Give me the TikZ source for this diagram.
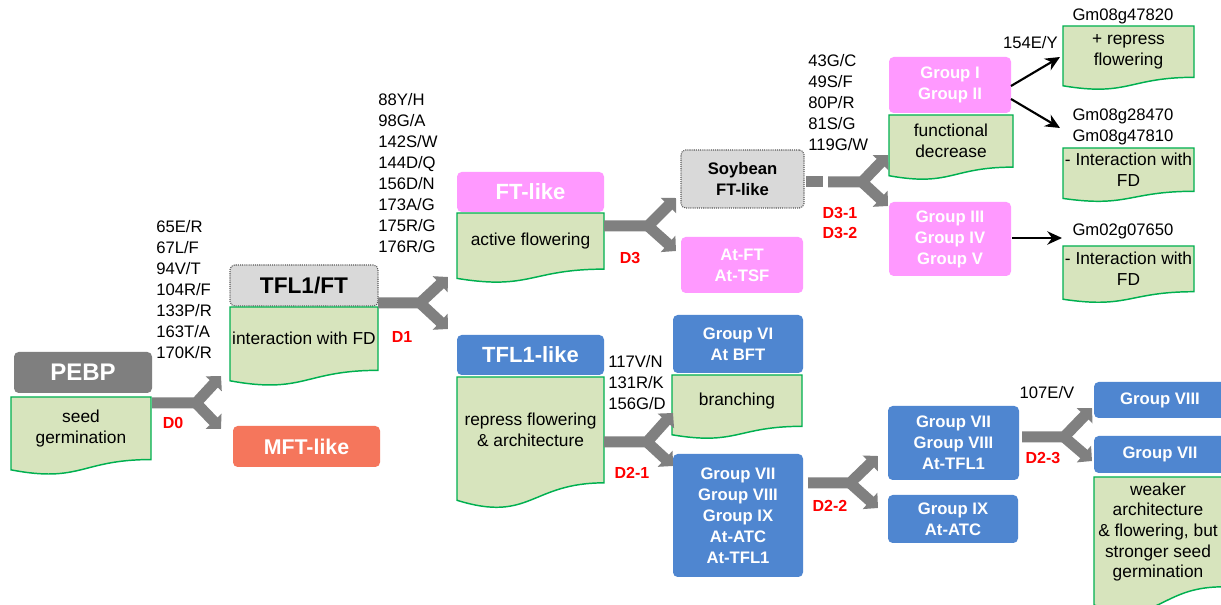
\documentclass[tikz,border=0pt]{standalone}
\usepackage{fontspec}
\setmainfont{Liberation Sans}
\usetikzlibrary{arrows.meta}
\definecolor{dgray}{RGB}{127,127,127}
\definecolor{lgray}{RGB}{217,217,217}
\definecolor{dotc}{RGB}{90,90,90}
\definecolor{gfill}{RGB}{215,228,189}
\definecolor{gline}{RGB}{0,176,80}
\definecolor{pinkc}{RGB}{255,153,255}
\definecolor{bluec}{RGB}{79,134,208}
\definecolor{salmon}{RGB}{245,118,92}
\definecolor{barc}{RGB}{128,128,128}
\definecolor{redc}{RGB}{255,0,0}
\tikzset{
  cboxbase/.style={rounded corners=3.5pt, inner sep=0pt, outer sep=0pt, align=center},
  darkbox/.style={cboxbase, fill=dgray, text=white, font=\bfseries\fontsize{18}{21}\selectfont},
  greybox/.style={cboxbase, fill=lgray, draw=dotc, line width=0.8pt, dash pattern=on 0.8pt off 0.8pt, text=black},
  pinkbox/.style={cboxbase, fill=pinkc, text=white, font=\bfseries\fontsize{12.5}{15.75}\selectfont},
  bluebox/.style={cboxbase, fill=bluec, text=white, font=\bfseries\fontsize{12.5}{15.75}\selectfont},
  titlefont/.style={font=\bfseries\fontsize{16.5}{19}\selectfont},
  salbox/.style={cboxbase, fill=salmon, text=white, font=\bfseries\fontsize{16}{19}\selectfont},
  docshape/.style={fill=gfill, draw=gline, line width=1.1pt},
  doctext/.style={inner sep=0pt, align=center, font=\fontsize{13}{15.5}\selectfont},
  mutlist/.style={inner sep=0pt, align=left, anchor=west, font=\fontsize{12.5}{15.75}\selectfont},
  plaintext/.style={inner sep=0pt, align=center, font=\fontsize{12.5}{15.25}\selectfont},
  dlabel/.style={inner sep=0pt, align=center, text=redc, font=\bfseries\fontsize{12}{15}\selectfont},
  ybar/.style={draw=barc, line width=8.25pt, line join=round, -{Triangle[width=16pt,length=8pt]}},
  ybarplain/.style={draw=barc, line width=8.25pt},
  blackarrow/.style={draw=black, line width=1.6pt, -{Stealth[length=11pt,width=10pt]}}
}
\newcommand\cbox[7]{%
  \node[#2, minimum width={(#5-#3)*0.75pt}, minimum height={(#6-#4)*0.75pt}] (#1) at ({(#3+#5)/2},{(#4+#6)/2}) {#7};}
\newcommand\docbox[6]{%
  \path[docshape] (#2,#3) -- (#4,#3) -- (#4,{#3+0.802*(#5-#3)}) .. controls ({(#2+#4)/2},{#3+0.802*(#5-#3)}) and ({(#2+#4)/2},{#3+1.107*(#5-#3)}) .. (#2,{#3+0.934*(#5-#3)}) -- cycle;
  \node[doctext] (#1) at ({(#2+#4)/2},{#3+0.401*(#5-#3)}) {#6};}
\begin{document}
\begin{tikzpicture}[x=0.75pt, y=-0.75pt]
\clip (0,0) rectangle (1221,605);
\fill[white] (0,0) rectangle (1221,605);

% ---------- boxes ----------
\cbox{pebp}{darkbox}{14}{352}{152}{393}{PEBP}
\docbox{seed}{11}{397}{151}{475}{seed\\germination}

\cbox{tflft}{greybox, text=black, font=\bfseries\fontsize{17}{20}\selectfont}{230}{265}{378}{306}{TFL1/FT}
\docbox{interfd}{230}{307}{378}{386}{interaction with FD}
\cbox{mft}{salbox}{233}{426}{380}{467}{MFT-like}

\cbox{ftlike}{pinkbox, titlefont}{457}{172}{604}{212}{FT-like}
\docbox{active}{457}{213}{604}{283}{active flowering}

\cbox{tfl1like}{bluebox, titlefont}{457}{335}{604}{375}{TFL1-like}
\docbox{repress}{457}{377}{604}{509}{repress flowering\\\& architecture}

\cbox{soy}{greybox, font=\bfseries\fontsize{12.5}{15.75}\selectfont}{681}{150}{804}{208}{Soybean\\FT-like}
\cbox{atft}{pinkbox}{681}{237}{803}{293}{At-FT\\At-TSF}

\cbox{g12}{pinkbox}{889}{57}{1011}{113}{Group I\\Group II}
\docbox{funcdec}{889}{115}{1013}{180}{functional\\decrease}
\cbox{g345}{pinkbox}{889}{202}{1011}{276}{Group III\\Group IV\\Group V}

\docbox{reprfl}{1063}{26}{1194}{90}{+ repress\\flowering}
\docbox{interA}{1063}{148}{1194}{202}{- Interaction with\\FD}
\docbox{interB}{1063}{246}{1194}{303}{- Interaction with\\FD}

\cbox{g6}{bluebox}{673}{315}{803}{373}{Group VI\\At BFT}
\docbox{branch}{672}{375}{802}{439}{branching}
\cbox{g789}{bluebox}{673}{454}{803}{577}{Group VII\\Group VIII\\Group IX\\At-ATC\\At-TFL1}

\cbox{g78}{bluebox}{888}{406}{1019}{480}{Group VII\\Group VIII\\At-TFL1}
\cbox{g9}{bluebox}{888}{495}{1018}{543}{Group IX\\At-ATC}

\cbox{g8}{bluebox}{1094}{382}{1226}{418}{Group VIII}
\cbox{g7}{bluebox}{1094}{436}{1226}{473}{Group VII}
\docbox{weaker}{1094}{477}{1222}{614}{weaker\\architecture\\\& flowering, but\\stronger seed\\germination}

% ---------- mutation lists ----------
\node[mutlist] (m1) at (156,290) {65E/R\\67L/F\\94V/T\\104R/F\\133P/R\\163T/A\\170K/R};
\node[mutlist] (m2) at (378,173.5) {88Y/H\\98G/A\\142S/W\\144D/Q\\156D/N\\173A/G\\175R/G\\176R/G};
\node[mutlist] (m3) at (808,103) {43G/C\\49S/F\\80P/R\\81S/G\\119G/W};
\node[mutlist] (m4) at (608,382.5) {117V/N\\131R/K\\156G/D};
\node[plaintext, anchor=east] (m5) at (1058,43) {154E/Y};
\node[plaintext] (m6) at (1047,393) {107E/V};

\node[plaintext] (gm1) at (1123,16) {Gm08g47820};
\node[plaintext] (gm2) at (1123,127) {Gm08g28470\\Gm08g47810};
\node[plaintext] (gm3) at (1123,231) {Gm02g07650};

% ---------- D labels ----------
\node[dlabel] (l0) at (173,423) {D0};
\node[dlabel] (l1) at (402,337) {D1};
\node[dlabel] (l3) at (630,258) {D3};
\node[dlabel] (l31) at (840,223) {D3-1\\D3-2};
\node[dlabel] (l21) at (632,473) {D2-1};
\node[dlabel] (l22) at (830,506) {D2-2};
\node[dlabel] (l23) at (1043,458) {D2-3};

% ---------- Y connectors ----------
\coordinate (d0s) at (152,403); \coordinate (d0j) at (196,403);
\coordinate (d0u) at (221,376); \coordinate (d0d) at (221,429);
\draw[ybar] (d0s) -- (d0j) -- (d0u); \draw[ybar] (d0j) -- (d0d);

\coordinate (d1s) at (378,303); \coordinate (d1j) at (420,303);
\coordinate (d1u) at (448,277); \coordinate (d1d) at (448,329);
\draw[ybar] (d1s) -- (d1j) -- (d1u); \draw[ybar] (d1j) -- (d1d);

\coordinate (d3s) at (604,226); \coordinate (d3j) at (648,226);
\coordinate (d3u) at (676,198); \coordinate (d3d) at (676,251);
\draw[ybar] (d3s) -- (d3j) -- (d3u); \draw[ybar] (d3j) -- (d3d);

\coordinate (d31a) at (806,182); \coordinate (d31b) at (823,182);
\coordinate (d31c) at (828,182); \coordinate (d31j) at (862,182);
\coordinate (d31u) at (888,155); \coordinate (d31d) at (888,206);
\draw[ybarplain] (d31a) -- (d31b);
\draw[ybar] (d31c) -- (d31j) -- (d31u); \draw[ybar] (d31j) -- (d31d);

\coordinate (d21s) at (604,442); \coordinate (d21j) at (647,442);
\coordinate (d21u) at (673,413); \coordinate (d21d) at (673,466);
\draw[ybar] (d21s) -- (d21j) -- (d21u); \draw[ybar] (d21j) -- (d21d);

\coordinate (d22s) at (808,483); \coordinate (d22j) at (850,483);
\coordinate (d22u) at (878,456); \coordinate (d22d) at (878,508);
\draw[ybar] (d22s) -- (d22j) -- (d22u); \draw[ybar] (d22j) -- (d22d);

\coordinate (d23s) at (1022,437); \coordinate (d23j) at (1064,437);
\coordinate (d23u) at (1092,408); \coordinate (d23d) at (1092,461);
\draw[ybar] (d23s) -- (d23j) -- (d23u); \draw[ybar] (d23j) -- (d23d);

% ---------- black arrows ----------
\coordinate (a1s) at (1011,86);  \coordinate (a1e) at (1060,57);
\coordinate (a2s) at (1011,99);  \coordinate (a2e) at (1060,128);
\coordinate (a3s) at (1012,238); \coordinate (a3e) at (1062,238);
\draw[blackarrow] (a1s) -- (a1e);
\draw[blackarrow] (a2s) -- (a2e);
\draw[blackarrow] (a3s) -- (a3e);
\end{tikzpicture}
\end{document}
